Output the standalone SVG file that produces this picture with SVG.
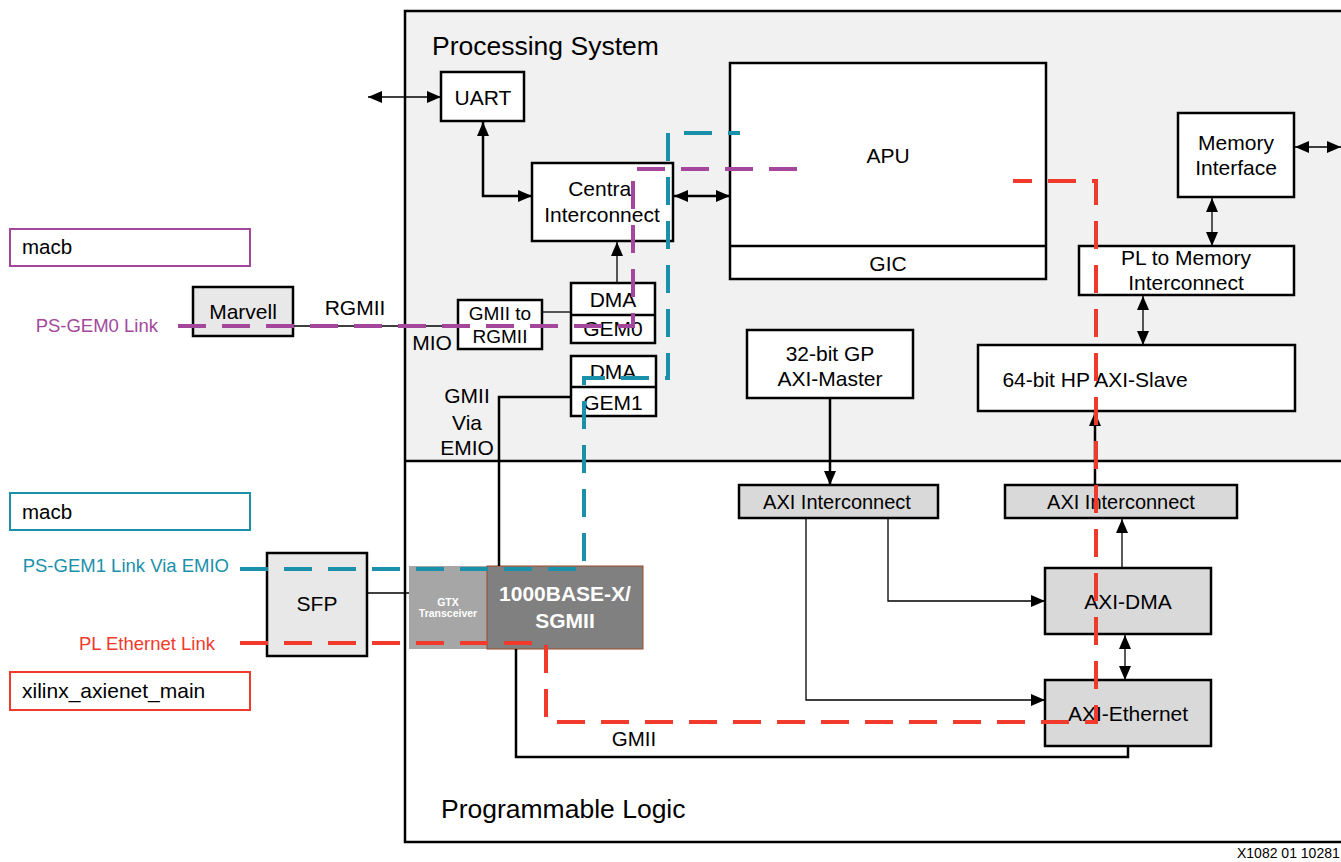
<svg xmlns="http://www.w3.org/2000/svg" width="1341" height="862" viewBox="0 0 1341 862">
<defs>
<style>
text{font-family:"Liberation Sans",Arial,sans-serif;fill:#000}
.box{fill:#fff;stroke:#000;stroke-width:2.5}
.gbox{fill:#d9d9d9;stroke:#000;stroke-width:2.5}
.lbox{fill:#e8e8e8;stroke:#000;stroke-width:2.5}
.t18{font-size:21px;text-anchor:middle}
.thick{fill:none;stroke:#000;stroke-width:2.5}
.thin{fill:none;stroke:#000;stroke-width:1.3}
.mag{fill:none;stroke:#a4479c;stroke-width:4;stroke-dasharray:28 16}
.teal{fill:none;stroke:#1a90ab;stroke-width:4;stroke-dasharray:28 16}
.red{fill:none;stroke:#f03a2c;stroke-width:4;stroke-dasharray:28 16}
</style>
<marker id="a" viewBox="0 0 14 12" refX="14" refY="6" markerWidth="14" markerHeight="12" markerUnits="userSpaceOnUse" orient="auto-start-reverse"><path d="M0,0 L14,6 L0,12z" fill="#000"/></marker>
</defs>
<rect width="1341" height="862" fill="#fff"/>
<g id="frame">
<rect x="405" y="11" width="950" height="450" fill="#f1f1f1"/>
<rect x="405" y="11" width="950" height="831" fill="none" stroke="#000" stroke-width="2.5"/>
<line x1="405" y1="461" x2="1341" y2="461" stroke="#000" stroke-width="2.5"/>
<text x="432" y="55" font-size="26.5">Processing System</text>
<text x="441" y="818" font-size="26.5">Programmable Logic</text>
<text x="1237" y="858" font-size="14">X1082  01  10281</text>
</g>
<g id="uart"><rect class="box" x="441" y="72" width="83" height="49"/><text class="t18" x="483" y="105">UART</text></g>
<g id="central"><rect class="box" x="532" y="163" width="141" height="78"/><text class="t18" x="602" y="196">Central</text><text class="t18" x="602" y="222">Interconnect</text></g>
<g id="apu"><rect class="box" x="730" y="63" width="316" height="216"/><line x1="730" y1="246" x2="1046" y2="246" stroke="#000" stroke-width="2.5"/><text class="t18" x="888" y="163">APU</text><text class="t18" x="888" y="271">GIC</text></g>
<g id="memif"><rect class="box" x="1178" y="113" width="116" height="84"/><text class="t18" x="1236" y="150">Memory</text><text class="t18" x="1236" y="175">Interface</text></g>
<g id="pl2mem"><rect class="box" x="1079" y="246" width="215" height="49"/><text class="t18" x="1186" y="265">PL to Memory</text><text class="t18" x="1186" y="290">Interconnect</text></g>
<g id="hp"><rect class="box" x="978" y="345" width="317" height="66"/><text class="t18" x="1095" y="387">64-bit HP AXI-Slave</text></g>
<g id="gp"><rect class="box" x="747" y="330" width="166" height="68"/><text class="t18" x="830" y="361">32-bit GP</text><text class="t18" x="830" y="386">AXI-Master</text></g>
<g id="axiic1"><rect class="gbox" x="739" y="485" width="199" height="33"/><text class="t18" x="837" y="509" style="font-size:20px">AXI Interconnect</text></g>
<g id="axiic2"><rect class="gbox" x="1005" y="485" width="232" height="33"/><text class="t18" x="1121" y="509" style="font-size:20px">AXI Interconnect</text></g>
<g id="axidma"><rect class="gbox" x="1045" y="568" width="166" height="66"/><text class="t18" x="1128" y="609">AXI-DMA</text></g>
<g id="axieth"><rect class="gbox" x="1045" y="680" width="166" height="66"/><text class="t18" x="1128" y="721">AXI-Ethernet</text></g>
<g id="gmii2rgmii"><rect class="box" x="458" y="300" width="84" height="49" stroke-width="2"/><text font-size="19" text-anchor="middle" x="500" y="320">GMII to</text><text font-size="19" text-anchor="middle" x="500" y="343">RGMII</text></g>
<g id="gem0"><rect class="box" x="571" y="283" width="84" height="60"/><line x1="571" y1="315" x2="655" y2="315" stroke="#000" stroke-width="2.5"/><text class="t18" x="613" y="307">DMA</text><text class="t18" x="613" y="336">GEM0</text></g>
<g id="gem1"><rect class="box" x="571" y="356" width="85" height="60"/><line x1="571" y1="387" x2="656" y2="387" stroke="#000" stroke-width="2.5"/><text class="t18" x="613" y="379">DMA</text><text class="t18" x="613" y="410">GEM1</text></g>
<g id="marvell"><rect class="lbox" x="193" y="287" width="100" height="49"/><text class="t18" x="243" y="319">Marvell</text></g>
<g id="sfp"><rect class="lbox" x="267" y="553" width="100" height="103"/><text class="t18" x="317" y="611">SFP</text></g>
<g id="gtx"><rect x="409" y="566" width="78" height="83" fill="#a6a6a6"/><text x="448" y="606" font-size="10.5" font-weight="bold" text-anchor="middle" style="fill:#fff">GTX</text><text x="448" y="617" font-size="10.5" font-weight="bold" text-anchor="middle" style="fill:#fff">Transceiver</text></g>
<g id="base1000"><rect x="487" y="566" width="156" height="83" fill="#808080" stroke="#9a4a2a" stroke-width="1"/><text x="565" y="601" font-size="21" font-weight="bold" text-anchor="middle" style="fill:#fff">1000BASE-X/</text><text x="565" y="628" font-size="21" font-weight="bold" text-anchor="middle" style="fill:#fff">SGMII</text></g>
<g id="legend">
<rect x="10" y="229" width="240" height="37" fill="#fff" stroke="#a4479c" stroke-width="2"/><text x="22" y="254" font-size="20.5">macb</text>
<text x="158" y="332" font-size="18.5" text-anchor="end" style="fill:#a4479c">PS-GEM0 Link</text>
<rect x="10" y="493" width="240" height="37" fill="#fff" stroke="#1a90ab" stroke-width="2"/><text x="22" y="519" font-size="20.5">macb</text>
<text x="229" y="572" font-size="18.5" text-anchor="end" style="fill:#1a90ab">PS-GEM1 Link Via EMIO</text>
<text x="215" y="650" font-size="18.5" text-anchor="end" style="fill:#f03a2c">PL Ethernet Link</text>
<rect x="10" y="672" width="240" height="38" fill="#fff" stroke="#f03a2c" stroke-width="2"/><text x="22" y="698" font-size="21">xilinx_axienet_main</text>
</g>
<g id="labels">
<text class="t18" x="355" y="315">RGMII</text>
<text class="t18" x="432" y="350">MIO</text>
<text class="t18" x="467" y="403">GMII</text>
<text class="t18" x="467" y="430">Via</text>
<text class="t18" x="467" y="455">EMIO</text>
<text class="t18" x="634" y="746" style="font-size:20.5px">GMII</text>
</g>
<g id="connectors">
<line class="thin" x1="368" y1="97" x2="441" y2="97" marker-start="url(#a)" marker-end="url(#a)"/>
<path class="thick" d="M483,122 V196 H532" marker-start="url(#a)" marker-end="url(#a)"/>
<line class="thick" x1="674" y1="196" x2="730" y2="196" marker-start="url(#a)" marker-end="url(#a)"/>
<line class="thin" x1="1295" y1="147" x2="1341" y2="147" marker-start="url(#a)" marker-end="url(#a)"/>
<line class="thin" x1="1212" y1="198" x2="1212" y2="246" marker-start="url(#a)" marker-end="url(#a)"/>
<line class="thin" x1="1143" y1="296" x2="1143" y2="345" marker-start="url(#a)" marker-end="url(#a)"/>
<line class="thick" x1="830" y1="399" x2="830" y2="485" marker-end="url(#a)"/>
<line class="thick" x1="1095" y1="485" x2="1095" y2="412" marker-end="url(#a)"/>
<line class="thin" x1="1122" y1="568" x2="1122" y2="519" marker-end="url(#a)"/>
<line class="thin" x1="1125" y1="635" x2="1125" y2="680" marker-start="url(#a)" marker-end="url(#a)"/>
<path class="thin" d="M888,518 V601 H1045" marker-end="url(#a)"/>
<path class="thin" d="M806,518 V700 H1045" marker-end="url(#a)"/>
<line class="thin" x1="617" y1="283" x2="617" y2="242" marker-end="url(#a)"/>
<line class="thin" x1="542" y1="312" x2="571" y2="312"/>
<line class="thin" x1="293" y1="326" x2="458" y2="326"/>
<line class="thin" x1="367" y1="593" x2="409" y2="593"/>
<path class="thick" d="M571,397 H499 V566"/>
<path class="thick" d="M516,649 V757 H1128 V746"/>
<path class="mag" d="M178,326 H633 V169 H800"/>
<path class="teal" d="M240,569 H584 V378 H668 V133 H740"/>
<path class="red" d="M240,643 H546 V722 H1096 V181 H1013"/>
</g>
</svg>
